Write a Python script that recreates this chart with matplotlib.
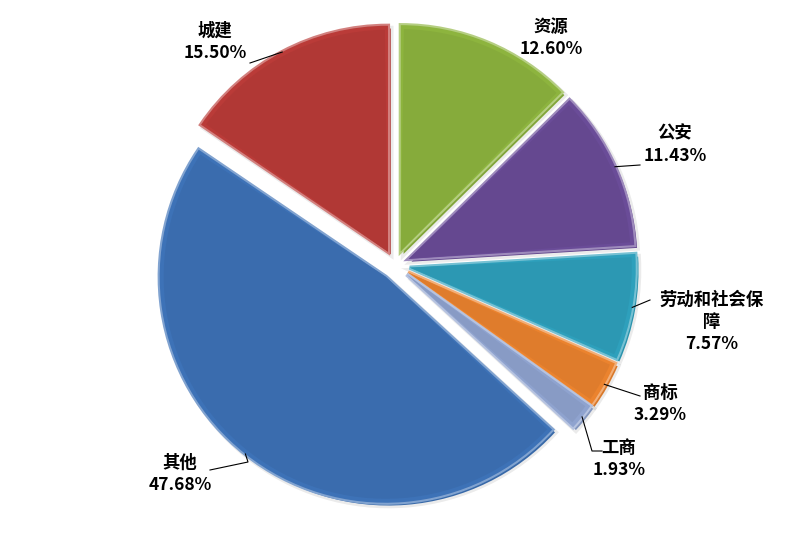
import numpy as np
import matplotlib
matplotlib.use("Agg")
import matplotlib.pyplot as plt
import matplotlib.patheffects as pe
from matplotlib.patches import Wedge
from matplotlib.colors import to_rgb

plt.rcParams['font.family'] = ['Noto Sans CJK SC', 'DejaVu Sans']

categories = ["资源", "公安", "劳动和社会保\n障", "商标", "工商", "其他", "城建"]
shares = [12.60, 11.43, 7.57, 3.29, 1.93, 47.68, 15.50]
colors = ["#8DB43E", "#6A4C98", "#2EA0BC", "#EB832E", "#8FA3CF", "#3D72B7", "#BA3B38"]

W, H = 789, 534
fig = plt.figure(figsize=(W / 100, H / 100), dpi=100)
ax = fig.add_axes([0, 0, 1, 1])

cx, cy = 395, H - 265
R = 226
gap = 15

def lighten(c, f):
    r, g, b = to_rgb(c)
    return (r + (1 - r) * f, g + (1 - g) * f, b + (1 - b) * f)

def darken(c, f):
    r, g, b = to_rgb(c)
    return (r * (1 - f), g * (1 - f), b * (1 - f))

wedges, _ = ax.pie(shares, colors=colors, startangle=90, counterclock=False,
                   explode=[gap] * len(shares), radius=R, center=(cx, cy),
                   wedgeprops=dict(linewidth=0))

for w, c in zip(wedges, colors):
    w.set_path_effects([
        pe.withStroke(linewidth=4, foreground=(0, 0, 0, 0.08), offset=(2, -2)),
        pe.Stroke(linewidth=3, foreground=lighten(c, 0.35)),
        pe.Normal(),
    ])
    # bevelled inner face
    wcx, wcy = w.center
    inner = Wedge((wcx, wcy), R - 4, w.theta1 + 0.8, w.theta2 - 0.8,
                  facecolor=darken(c, 0.05), linewidth=0)
    ax.add_patch(inner)

# label text positions (pixel coordinates, y measured from top)
label_pos = {
    "城建": (215, 42),
    "资源": (551, 38),
    "公安": (675, 145),
    "劳动和社会保\n障": (712, 322),
    "商标": (660, 404),
    "工商": (619, 459),
    "其他": (180, 474),
}
# leader line points (label side)
leader_end = {
    "城建": [(250, 63)],
    "公安": [(640, 165)],
    "劳动和社会保\n障": [(650, 300)],
    "商标": [(640, 396)],
    "工商": [(592, 451), (602, 451)],
    "其他": [(248, 462), (210, 470)],
}

for w, name, val in zip(wedges, categories, shares):
    mid = np.deg2rad((w.theta1 + w.theta2) / 2)
    wcx, wcy = w.center
    ax_pt = (wcx + R * np.cos(mid), wcy + R * np.sin(mid))
    if name in leader_end:
        pts = [ax_pt] + [(x, H - y) for x, y in leader_end[name]]
        xs, ys = zip(*pts)
        ax.plot(xs, ys, color="black", lw=0.8, zorder=5)
    x, y = label_pos[name]
    txt = f"{name}\n{val:.2f}%"
    ax.text(x, H - y, txt, ha="center", va="center", fontsize=12.5,
            fontweight="bold", linespacing=1.3, zorder=6)

ax.set_xlim(0, W)
ax.set_ylim(0, H)
ax.set_aspect("equal")
ax.axis("off")
fig.savefig("out.png", dpi=100, facecolor="white")
